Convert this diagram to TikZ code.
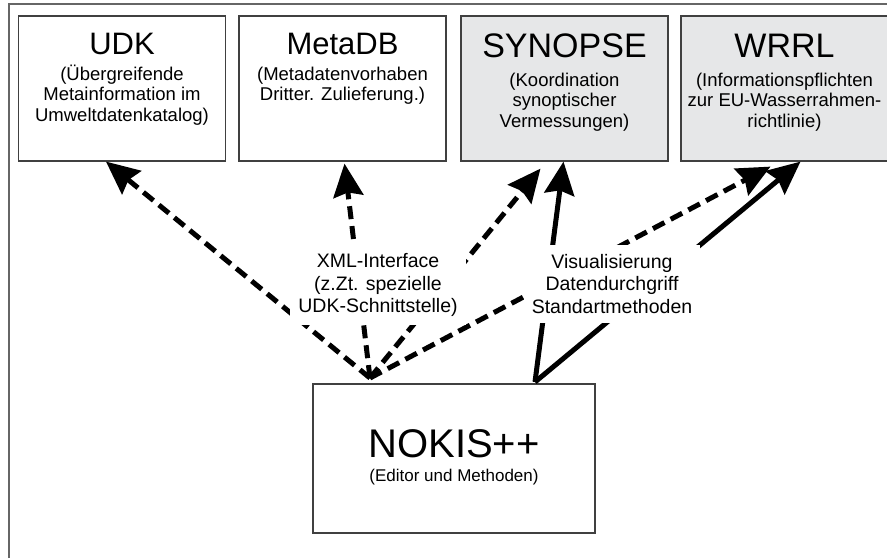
\documentclass[tikz,border=0pt]{standalone}
\usepackage{fontspec}
\setmainfont{Liberation Sans}
\usepackage{xcolor}
\usetikzlibrary{arrows.meta}

\definecolor{boxgray}{RGB}{230,231,232}

\begin{document}
\begin{tikzpicture}
	[x=1pt, y=-1pt,
	box/.style={draw=black!75, line width=1.2pt, minimum width=207pt, minimum height=145pt, inner sep=0pt},
	graybox/.style={box, fill=boxgray},
	title/.style={anchor=base, inner sep=0pt, font=\fontsize{31}{34}\selectfont},
	bigtitle/.style={title, font=\fontsize{34}{37}\selectfont},
	sub/.style={anchor=base, inner sep=0pt, align=center, font=\fontsize{18.5}{20.5}\selectfont},
	lbl/.style={fill=white, align=center, inner xsep=8pt, inner ysep=8pt, font=\fontsize{19.5}{22.5}\selectfont},
	darrow/.style={line width=5pt, dash pattern=on 13pt off 7pt, -{Stealth[length=33pt,width=30pt,inset=4pt]}},
	sarrow/.style={line width=5pt, -{Stealth[length=33pt,width=30pt,inset=4pt]}}]

	\useasboundingbox (0,0) rectangle (887,558);
	\draw [black!60, line width=1.5pt] (9,558) -- (9,4) -- (887,4);

	% boxes on top (sub texts placed by the baseline of their last line)
	\node[box] (udk) at (122,88.5) {};
	\node[title] (udkt) at (122,54) {UDK};
	\node[sub] (udks) at (122,121) {(Übergreifende\\Metainformation im\\Umweltdatenkatalog)};

	\node[box] (metadb) at (342.5,88.5) {};
	\node[title] (metadbt) at (342.5,54) {MetaDB};
	\node[sub] (metadbs) at (342.5,100.5) {(Metadatenvorhaben\\Dritter. Zulieferung.)};

	\node[graybox] (synopse) at (564.5,88.5) {};
	\node[bigtitle] (synopset) at (564.5,57) {SYNOPSE};
	\node[sub] (synopses) at (564.5,127) {(Koordination\\synoptischer\\Vermessungen)};

	\node[graybox] (wrrl) at (784.5,88.5) {};
	\node[bigtitle] (wrrlt) at (784.5,57) {WRRL};
	\node[sub] (wrrls) at (784.5,127) {(Informationspflichten\\zur EU-Wasserrahmen-\\richtlinie)};

	% editor box
	\node[box, minimum width=282pt, minimum height=149pt] (nokis) at (454,458.5) {};
	\node[title, font=\fontsize{40}{44}\selectfont] (nokist) at (454,457) {NOKIS++};
	\node[sub, font=\fontsize{17}{19}\selectfont] (nokiss) at (454,481) {(Editor und Methoden)};

	% connectors
	\coordinate (xmlsrc) at (370,378);
	\coordinate (vissrc) at (535,382);
	\draw[darrow] (xmlsrc) -- ([xshift=-16pt]udk.south);
	\draw[darrow] (xmlsrc) -- ([xshift=2pt,yshift=-2pt]metadb.south);
	\draw[darrow] (xmlsrc) -- ([xshift=-24pt,yshift=-7pt]synopse.south);
	\draw[darrow] (xmlsrc) -- ([xshift=-14pt,yshift=-5pt]wrrl.south);
	\draw[sarrow] (vissrc) -- ([xshift=-1pt]synopse.south);
	\draw[sarrow] (vissrc) -- ([xshift=16pt]wrrl.south);

	\node[lbl] (xml) at (378,285) {XML-Interface\\(z.Zt. spezielle\\UDK-Schnittstelle)};
	\node[lbl, inner ysep=9pt] (vis) at (612,284) {Visualisierung\\Datendurchgriff\\Standartmethoden};

\end{tikzpicture}
\end{document}
